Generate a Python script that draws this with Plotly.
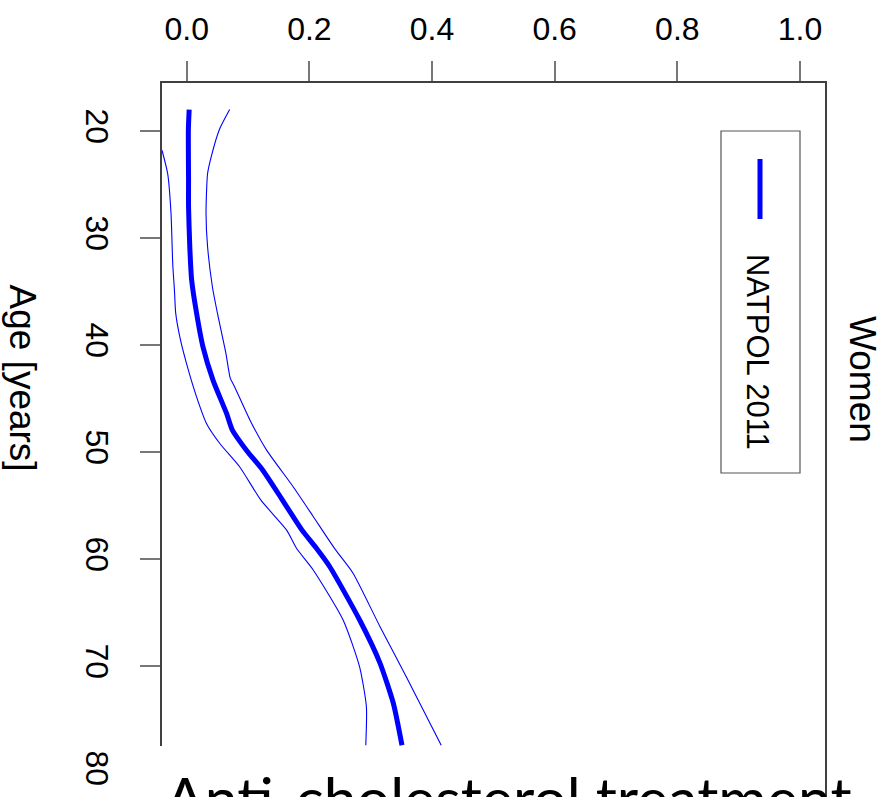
import plotly.graph_objects as go

# ---------------- data ----------------
age_center = [18, 19.9, 24.6, 27.1, 30.8, 33.9, 37.0, 40.2, 43.3, 46.4, 47.9, 49.8, 51.7, 54.3, 56.0, 57.3,
              59.0, 60.7, 65.7, 69.7, 73.5, 77.4]
prob_center = [0.004, 0.0027, 0.003, 0.003, 0.005, 0.008, 0.016, 0.0266, 0.043, 0.065, 0.074, 0.097, 0.124,
               0.154, 0.173, 0.188, 0.2115, 0.233, 0.282, 0.315, 0.337, 0.351]

age_upper = [18, 19.9, 22.4, 24.0, 27.7, 30.8, 34.6, 37.0, 40.8, 43.1, 43.9, 47.0, 49.8, 53.2, 56.0, 59.0,
             61.3, 66.3, 71.0, 77.4]
prob_upper = [0.070, 0.053, 0.040, 0.034, 0.0315, 0.034, 0.042, 0.050, 0.064, 0.071, 0.078, 0.103, 0.130,
              0.173, 0.206, 0.241, 0.271, 0.315, 0.358, 0.415]

age_lower = [21.8, 24.0, 27.7, 32.4, 34.9, 37.0, 39.2, 41.7, 44.8, 47.3, 49.2, 51.4, 54.5, 57.3, 59.0, 61.0,
             65.7, 70.1, 73.8, 77.4]
prob_lower = [-0.0403, -0.031, -0.0256, -0.0228, -0.020, -0.018, -0.0114, -0.0005, 0.0158, 0.032, 0.054,
              0.0865, 0.121, 0.163, 0.179, 0.206, 0.255, 0.282, 0.293, 0.292]

prob_ticks = [0.0, 0.2, 0.4, 0.6, 0.8, 1.0]
prob_tick_labels = ["0.0", "0.2", "0.4", "0.6", "0.8", "1.0"]
age_ticks = [20, 30, 40, 50, 60, 70, 80]
age_tick_labels = ["20", "30", "40", "50", "60", "70", "80"]

series_name = "NATPOL 2011"
axis_title = "Age [years]"
side_label = "Women"
slide_title = "Anti-cholesterol treatment"

# ---------------- layout geometry ----------------
W, H = 891, 797
L, R, T, B = 162, 825, 83, 797  # plot area in pixels


def px(x):
    return (x - L) / (R - L)


def py(y):
    return (B - y) / (B - T)


BLUE = "#0000FF"
FONT = "Liberation Sans, Arial, sans-serif"

fig = go.Figure()
fig.add_trace(go.Scatter(x=prob_upper, y=age_upper, mode="lines",
                         line=dict(color=BLUE, width=1.1, shape="spline", smoothing=0.6),
                         showlegend=False, hoverinfo="skip"))
fig.add_trace(go.Scatter(x=prob_lower, y=age_lower, mode="lines",
                         line=dict(color=BLUE, width=1.1, shape="spline", smoothing=0.6),
                         showlegend=False, hoverinfo="skip"))
fig.add_trace(go.Scatter(x=prob_center, y=age_center, mode="lines", name=series_name,
                         line=dict(color=BLUE, width=5, shape="spline", smoothing=0.6),
                         showlegend=False))

fig.update_layout(
    width=W, height=H,
    margin=dict(l=L, r=W - R, t=T, b=H - B, pad=0),
    paper_bgcolor="white", plot_bgcolor="white",
    showlegend=False,
    xaxis=dict(
        side="top", range=[-0.0403, 1.0408], tickvals=prob_ticks, ticktext=prob_tick_labels,
        ticks="outside", ticklen=20, tickwidth=1.5, tickcolor="#777777",
        ticklabelstandoff=8,
        showline=True, linecolor="#404040", linewidth=1.5, mirror=False,
        showgrid=False, zeroline=False,
        tickfont=dict(family=FONT, size=32, color="black"),
        automargin=False, fixedrange=True,
    ),
    yaxis=dict(
        range=[82.24, 15.514], tickvals=age_ticks, ticktext=age_tick_labels,
        ticks="outside", ticklen=20, tickwidth=1.5, tickcolor="#777777", tickangle=90,
        ticklabelstandoff=16,
        showline=True, linecolor="#404040", linewidth=1.5, mirror=True,
        showgrid=False, zeroline=False,
        tickfont=dict(family=FONT, size=32, color="black"),
        automargin=False, fixedrange=True,
    ),
)

shapes = [
    # white box of the slide title covering the bottom of the chart
    dict(type="rect", xref="paper", yref="paper", x0=px(125), x1=px(823), y0=py(746), y1=py(810),
         fillcolor="white", line=dict(width=0), layer="above"),
    # legend box
    dict(type="rect", xref="paper", yref="paper", x0=px(721), x1=px(800), y0=py(473), y1=py(131),
         fillcolor="rgba(0,0,0,0)", line=dict(color="#555555", width=1.2), layer="above"),
    # legend line sample
    dict(type="line", xref="paper", yref="paper", x0=px(760), x1=px(760), y0=py(159), y1=py(219),
         line=dict(color=BLUE, width=5), layer="above"),
]
fig.update_layout(shapes=shapes)

annotations = [
    dict(text=series_name, textangle=90, x=px(757.5), y=py(351.5), xref="paper", yref="paper",
         showarrow=False, xanchor="center", yanchor="middle",
         font=dict(family=FONT, size=31, color="black")),
    dict(text=axis_title, textangle=90, x=px(22), y=py(377.5), xref="paper", yref="paper",
         showarrow=False, xanchor="center", yanchor="middle",
         font=dict(family=FONT, size=37, color="black")),
    dict(text=side_label, textangle=90, x=px(863), y=py(379), xref="paper", yref="paper",
         showarrow=False, xanchor="center", yanchor="middle",
         font=dict(family=FONT, size=37, color="black")),
    dict(text=slide_title, x=px(508), y=py(797), xref="paper", yref="paper",
         showarrow=False, xanchor="center", yanchor="middle",
         font=dict(family="Lato, sans-serif", size=59, color="black")),
]
fig.update_layout(annotations=annotations)

fig.write_html("out.html", config={"displayModeBar": False},
               post_script="document.body.style.margin='0';document.body.style.overflow='hidden';")
